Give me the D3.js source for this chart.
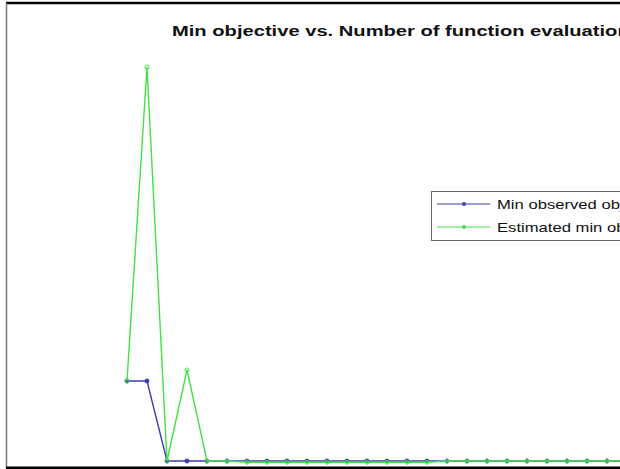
<!DOCTYPE html>
<html>
<head>
<meta charset="utf-8">
<script src="https://cdn.jsdelivr.net/npm/d3@7"></script>
<style>
  body { margin: 0; background: #fff; }
  svg { display: block; font-family: "Liberation Sans", Arial, sans-serif; }
</style>
</head>
<body>
<script>
var svg_width = 620;
var svg_height = 469;

// evaluation number and the two traces
var evals = d3.range(1, 27);
var minObserved = [0.203, 0.203, 0, 0, 0, 0, 0, 0, 0, 0, 0, 0, 0, 0, 0, 0,
                   0, 0, 0, 0, 0, 0, 0, 0, 0, 0];
var estimatedMin = [0.203, 1.0, 0, 0.231, 0, 0, -0.003, -0.003, -0.003, -0.003, -0.003, -0.003, -0.003, -0.003, -0.003, -0.003,
                    0, 0, 0, 0, 0, 0, 0, 0, 0, 0];
var seriesNames = ['Min observed objective', 'Estimated min objective'];
var seriesColors = ['#3c3cb0', '#45e045'];
var title = 'Min objective vs. Number of function evaluations';

var svg = d3.select('body').append('svg')
            .attr('width', svg_width)
            .attr('height', svg_height);

var xscale = d3.scaleLinear().domain([1, 26]).range([127, 627]);
var yscale = d3.scaleLinear().domain([0, 1]).range([461, 67]);

// frame
svg.append('line').attr('x1', 6).attr('x2', 620).attr('y1', 3).attr('y2', 3)
    .attr('stroke', '#000').attr('stroke-width', 2.5);
svg.append('line').attr('x1', 6.5).attr('x2', 6.5).attr('y1', 3).attr('y2', 468)
    .attr('stroke', '#777').attr('stroke-width', 1.5);
svg.append('line').attr('x1', 6).attr('x2', 620).attr('y1', 467.8).attr('y2', 467.8)
    .attr('stroke', '#000').attr('stroke-width', 2.5);

// the picture is stretched sideways, so the texts are too
svg.append('text')
    .attr('transform', 'translate(172, 36) scale(1.3, 1)')
    .attr('font-size', 15.5).attr('font-weight', 'bold')
    .attr('fill', '#111')
    .text(title);

var line = d3.line()
    .x(function(d, i) { return xscale(evals[i]); })
    .y(function(d) { return yscale(d); });

[minObserved, estimatedMin].forEach(function(series, k) {
  var g = svg.append('g');
  g.append('path')
      .attr('d', line(series))
      .attr('fill', 'none')
      .attr('stroke', seriesColors[k])
      .attr('stroke-width', 1.4);
  g.selectAll('circle').data(series).enter().append('circle')
      .attr('cx', function(d, i) { return xscale(evals[i]); })
      .attr('cy', function(d) { return yscale(d); })
      .attr('r', 2)
      .attr('fill', k === 0 ? seriesColors[k] : 'none')
      .attr('stroke', seriesColors[k])
      .attr('stroke-width', 1);
});

// legend
var legend = svg.append('g').attr('transform', 'translate(431, 191)');
legend.append('rect')
    .attr('x', 0.5).attr('y', 0.5).attr('width', 260).attr('height', 49)
    .attr('fill', '#fff').attr('stroke', '#666').attr('stroke-width', 1);
seriesNames.forEach(function(name, k) {
  var yy = 13 + k * 23;
  legend.append('line').attr('x1', 6).attr('x2', 59).attr('y1', yy).attr('y2', yy)
      .attr('stroke', seriesColors[k]).attr('stroke-width', 1.2);
  legend.append('circle').attr('cx', 33).attr('cy', yy).attr('r', 2)
      .attr('fill', seriesColors[k]);
  legend.append('text')
      .attr('transform', 'translate(66,' + (yy + 5) + ') scale(1.28, 1)')
      .attr('font-size', 13).attr('fill', '#111')
      .text(name);
});
</script>
</body>
</html>
